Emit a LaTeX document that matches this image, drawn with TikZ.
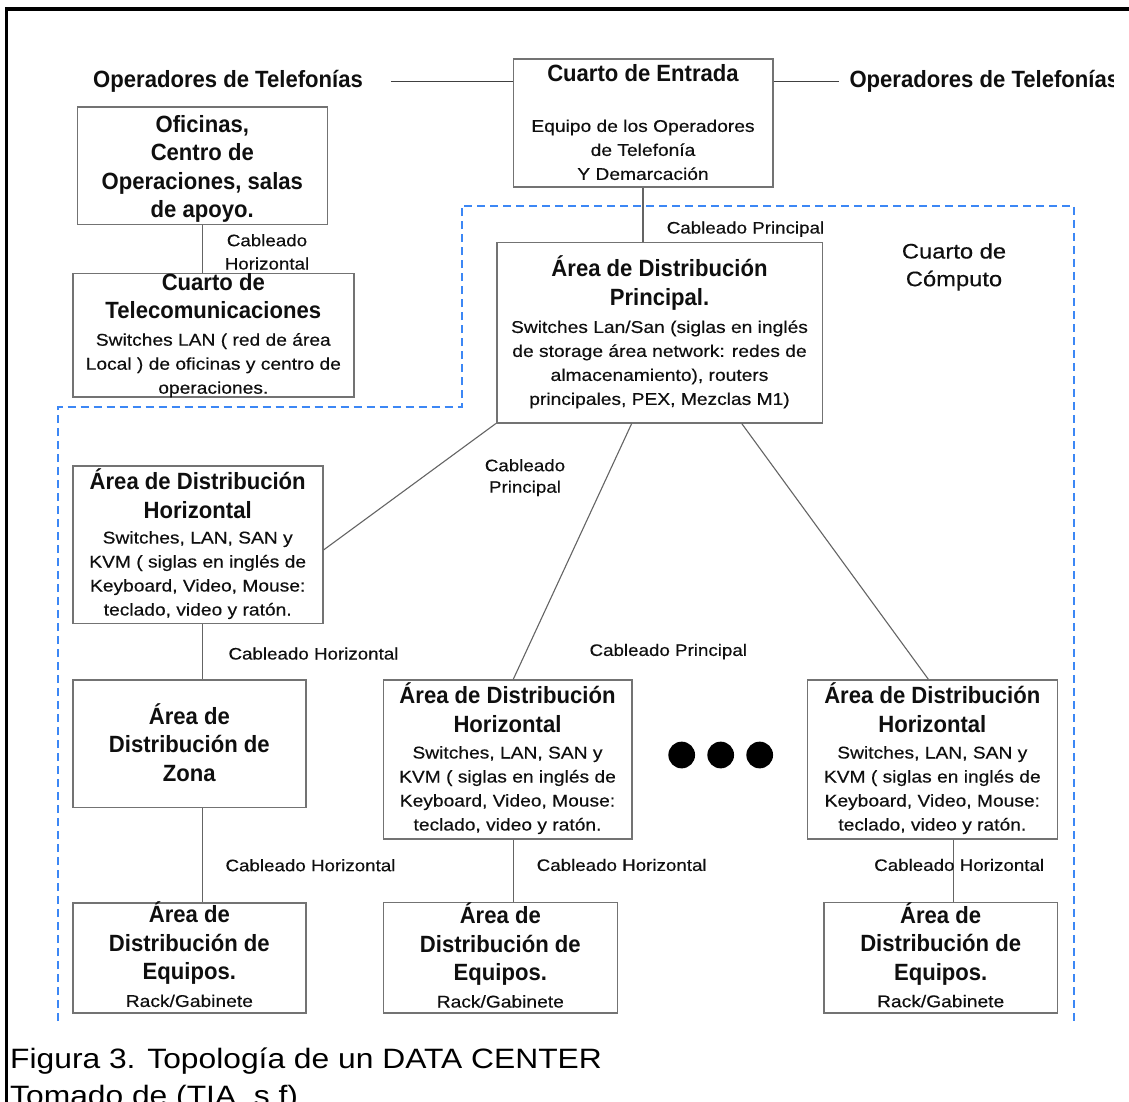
\documentclass[tikz,border=0pt]{standalone}
\usepackage{fontspec}
\setmainfont{Liberation Sans}
\newfontfamily\headfont{Liberation Sans}[FakeStretch=0.94]
\newfontfamily\bodyfont{Liberation Sans}[FakeStretch=1.13, FakeBold=0.35]
\newfontfamily\capfont{Liberation Sans}[FakeStretch=1.135]
\usetikzlibrary{calc}
\setlength\parindent{0pt}

\definecolor{boxline}{RGB}{115,115,115}
\definecolor{wire}{RGB}{100,100,100}
\definecolor{zone}{RGB}{60,135,245}
\definecolor{ink}{RGB}{15,15,15}

% font settings: headings (bold), body lines, connector labels
\newcommand\hdset{\headfont\bfseries\fontsize{23.5}{28.5}\selectfont}
\newcommand\bdset{\bodyfont\fontsize{17}{24}\selectfont}
\newcommand\lbset{\bodyfont\fontsize{16.6}{23.3}\selectfont}
% a vertical stack of centred lines set at natural spacing
\newcommand\stack[2]{\vbox{\hsize=#1pt\relax #2}}
\newcommand\cl[1]{\centerline{#1}}
% first-line struts fix the distance from a node's top to its first baseline
\newcommand\hstrut{\rule{0pt}{22pt}}
\newcommand\lstrut{\rule{0pt}{14pt}}

\tikzset{
  box/.style={draw=boxline, line width=1.6pt, rectangle, inner sep=0pt},
  txt/.style={anchor=north, inner sep=0pt, text=ink},
  wire/.style={draw=wire, line width=1.1pt},
  dot/.style={circle, fill=black, inner sep=0pt, minimum size=26.7pt},
}

\begin{document}
\begin{tikzpicture}[x=1pt, y=-1pt]
\useasboundingbox (0,0) rectangle (1129,1102);
\clip (0,0) rectangle (1129,1102);
\fill[white] (0,0) rectangle (1129,1102);

% outer frame
\draw[line width=3.2pt, black] (6.7,1102) -- (6.7,9) -- (1129,9);

% computer room (dashed outline)
\draw[draw=zone, line width=2pt, dash pattern=on 8pt off 5pt]
  (57.5,1021) -- (57.5,407) -- (461.5,407) -- (461.5,205.5) -- (1073.5,205.5) -- (1073.5,1021);

% boxes
\node[box, minimum width=250pt,   minimum height=117pt]   (ofi)  at (202.3,165.8) {};
\node[box, minimum width=281.3pt, minimum height=123.4pt] (tel)  at (213.35,335) {};
\node[box, minimum width=259.4pt, minimum height=128.3pt] (ent)  at (643,123.15) {};
\node[box, minimum width=325.6pt, minimum height=180.4pt] (pri)  at (659.5,332.5) {};
\node[box, minimum width=250pt,   minimum height=157.3pt] (adhL) at (197.7,544.65) {};
\node[box, minimum width=233.3pt, minimum height=127.3pt] (adz)  at (189.35,743.65) {};
\node[box, minimum width=233.3pt, minimum height=110pt]   (adeL) at (189.35,957.7) {};
\node[box, minimum width=248.4pt, minimum height=159pt]   (adhM) at (507.5,759.5) {};
\node[box, minimum width=234pt,   minimum height=110.4pt] (adeM) at (500.3,957.5) {};
\node[box, minimum width=250pt,   minimum height=159pt]   (adhR) at (932.3,759.5) {};
\node[box, minimum width=233.3pt, minimum height=110.7pt] (adeR) at (940.65,957.65) {};

% box texts
\node[txt] (ofiT) at (202.3,110) {\stack{340}{{\hdset\cl{\hstrut Oficinas,}\cl{Centro de}\cl{Operaciones, salas}\cl{de apoyo.}}}};
\node[txt] (telT) at (213.3,268) {\stack{340}{{\hdset\cl{\hstrut Cuarto de}\cl{Telecomunicaciones}}\vspace{3pt}%
  {\bdset\cl{Switches LAN ( red de área}\cl{Local ) de oficinas y centro de}\cl{operaciones.}}}};
\node[txt] (entT) at (643,59.7) {\stack{340}{{\hdset\cl{\hstrut Cuarto de Entrada}}\vspace{26pt}%
  {\bdset\cl{Equipo de los Operadores}\cl{de Telefonía}\cl{Y Demarcación}}}};
\node[txt] (priT) at (659.5,254.7) {\stack{340}{{\hdset\cl{\hstrut Área de Distribución}\cl{Principal.}}\vspace{3.5pt}%
  {\bdset\cl{Switches Lan/San (siglas en inglés}\cl{de storage área network: redes de}\cl{almacenamiento), routers}\cl{principales, PEX, Mezclas M1)}}}};
\node[txt] (adhLT) at (197.7,467.3) {\stack{340}{{\hdset\cl{\hstrut Área de Distribución}\cl{Horizontal}}\vspace{1.5pt}%
  {\bdset\cl{Switches, LAN, SAN y}\cl{KVM ( siglas en inglés de}\cl{Keyboard, Video, Mouse:}\cl{teclado, video y ratón.}}}};
\node[txt] (adhMT) at (507.5,681.3) {\stack{340}{{\hdset\cl{\hstrut Área de Distribución}\cl{Horizontal}}\vspace{2.5pt}%
  {\bdset\cl{Switches, LAN, SAN y}\cl{KVM ( siglas en inglés de}\cl{Keyboard, Video, Mouse:}\cl{teclado, video y ratón.}}}};
\node[txt] (adhRT) at (932.3,681.3) {\stack{340}{{\hdset\cl{\hstrut Área de Distribución}\cl{Horizontal}}\vspace{2.5pt}%
  {\bdset\cl{Switches, LAN, SAN y}\cl{KVM ( siglas en inglés de}\cl{Keyboard, Video, Mouse:}\cl{teclado, video y ratón.}}}};
\node[txt] (adzT) at (189.35,702) {\stack{340}{{\hdset\cl{\hstrut Área de}\cl{Distribución de}\cl{Zona}}}};
\node[txt] (adeLT) at (189.35,900.7) {\stack{340}{{\hdset\cl{\hstrut Área de}\cl{Distribución de}\cl{Equipos.}}\vspace{3pt}{\bdset\cl{Rack/Gabinete}}}};
\node[txt] (adeMT) at (500.3,901.3) {\stack{340}{{\hdset\cl{\hstrut Área de}\cl{Distribución de}\cl{Equipos.}}\vspace{3pt}{\bdset\cl{Rack/Gabinete}}}};
\node[txt] (adeRT) at (940.65,901) {\stack{340}{{\hdset\cl{\hstrut Área de}\cl{Distribución de}\cl{Equipos.}}\vspace{3pt}{\bdset\cl{Rack/Gabinete}}}};

% telephone operators
\node[anchor=base west, inner sep=0pt, text=ink] (opL) at (93,88)
  {\hdset Operadores de Telefonías};
\begin{scope}
  \clip (0,0) rectangle (1113,1102);
  \node[anchor=base west, inner sep=0pt, text=ink] (opR) at (849.3,87.7)
    {\hdset Operadores de Telefonías};
\end{scope}
\draw[draw=black!75, line width=1.2pt] ([xshift=27.7pt]opL.east) -- (ent.west |- opL.east);
\draw[draw=black!75, line width=1.2pt] (ent.east |- opR.west) -- ([xshift=-10pt]opR.west);

% computer room title
\node[txt] (comp) at (954,238.3) {\stack{220}{{\bodyfont\fontsize{21}{27.7}\selectfont\cl{\rule{0pt}{20pt}Cuarto de}\cl{Cómputo}}}};

% connectors
\draw[wire] (ofi.south) -- (ofi.south |- tel.north);
\draw[wire] (ent.south) -- (ent.south |- pri.north);
\draw[wire] (pri.south west) -- ([yshift=-5.35pt]adhL.east);
\draw[wire] ([xshift=-27.8pt]pri.south) -- ([xshift=5.8pt]adhM.north);
\draw[wire] ([xshift=82.2pt]pri.south) -- ([xshift=-4pt]adhR.north);
\draw[wire] (adhL.south -| ofi.south) -- (adz.north -| ofi.south);
\draw[wire] (adz.south -| ofi.south) -- (adeL.north -| ofi.south);
\draw[wire] ([xshift=5.8pt]adhM.south) -- ([xshift=5.8pt]adhM.south |- adeM.north);
\draw[wire] ([xshift=21pt]adhR.south) -- ([xshift=21pt]adhR.south |- adeR.north);

% connector labels
\node[txt] (l1) at (267,232) {\stack{220}{{\lbset\cl{\lstrut Cableado}\cl{Horizontal}}}};
\node[txt] (l2) at (745.5,219.3) {\stack{220}{{\lbset\cl{\lstrut Cableado Principal}}}};
\node[txt] (l3) at (525,457) {\stack{220}{{\bodyfont\fontsize{16.6}{21.5}\selectfont\cl{\lstrut Cableado}\cl{Principal}}}};
\node[txt] (l4) at (313.5,645.3) {\stack{220}{{\lbset\cl{\lstrut Cableado Horizontal}}}};
\node[txt] (l5) at (668.3,641.7) {\stack{220}{{\lbset\cl{\lstrut Cableado Principal}}}};
\node[txt] (l6) at (310.5,857) {\stack{220}{{\lbset\cl{\lstrut Cableado Horizontal}}}};
\node[txt] (l7) at (621.7,856.7) {\stack{220}{{\lbset\cl{\lstrut Cableado Horizontal}}}};
\node[txt] (l8) at (959.2,856.7) {\stack{220}{{\lbset\cl{\lstrut Cableado Horizontal}}}};

% ellipsis
\node[dot] (d1) at (681.7,755) {};
\node[dot] (d2) at (720.7,755) {};
\node[dot] (d3) at (759.7,755) {};

% caption
\node[anchor=base west, inner sep=0pt, text=black] (cap1) at (10,1068)
  {\capfont\fontsize{28}{37}\selectfont Figura 3. Topología de un DATA CENTER};
\node[anchor=base west, inner sep=0pt, text=black] (cap2) at (10,1105)
  {\capfont\fontsize{28}{37}\selectfont Tomado de (TIA, s.f)};
\end{tikzpicture}
\end{document}
